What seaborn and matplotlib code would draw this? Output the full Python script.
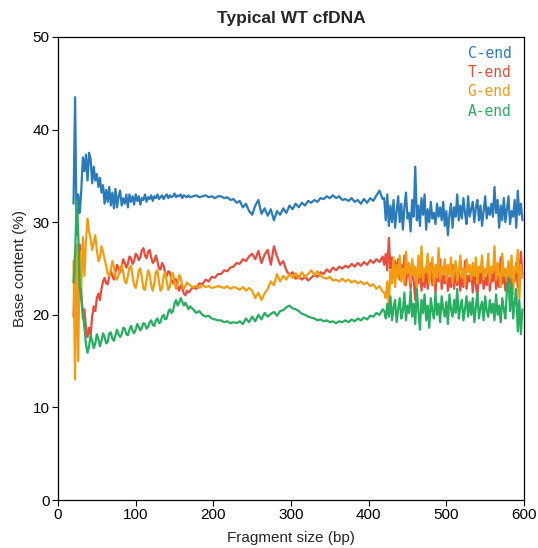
import numpy as np
import pandas as pd
import seaborn as sns
import matplotlib.pyplot as plt

# fragment sizes: dense at the start and in the noisy tail, coarser in the middle
size_bp = np.concatenate([np.arange(20, 170, 2), np.arange(170, 420, 4), np.arange(420, 600, 2)])

c_end = [
    # 20-168 step 2
    32.0, 43.5, 28.6, 33.0, 31.0, 33.5, 37.0, 35.5, 37.3, 34.5,
    37.5, 36.8, 34.2, 36.0, 34.5, 35.2, 33.8, 34.8, 33.2, 34.0,
    32.0, 33.5, 32.2, 33.8, 31.8, 33.2, 31.5, 33.6, 31.6, 32.8,
    33.4, 31.8, 32.6, 32.0, 33.0, 31.6, 33.0, 32.2, 32.8, 31.9,
    33.0, 32.3, 32.8, 31.9, 32.6, 32.4, 33.0, 32.2, 32.7, 32.5,
    32.9, 32.3, 32.8, 32.6, 33.0, 32.5, 32.7, 32.9, 32.5, 32.8,
    33.0, 32.6, 32.9, 32.7, 32.8, 33.1, 32.7, 32.9, 32.8, 33.0,
    32.6, 32.9, 32.8, 32.7, 32.9,
    # 170-418 step 4
    32.7, 32.8, 32.9, 32.7, 32.8, 32.9, 32.7, 32.8, 32.6, 32.8,
    32.8, 32.6, 32.7, 32.4, 32.5, 32.1, 32.3, 31.6, 32.0, 31.2,
    30.8, 31.8, 32.4, 30.9, 31.5, 30.7, 31.4, 30.2, 31.2, 30.8,
    31.5, 31.0, 31.8, 31.4, 32.0, 31.6, 32.1, 31.8, 32.3, 32.1,
    32.4, 32.2, 32.6, 32.5, 32.8, 32.6, 32.9, 32.6, 32.8, 32.4,
    32.5, 32.3, 32.6, 32.2, 32.4, 32.0, 32.5, 32.1, 32.6, 32.3,
    32.9, 33.4, 32.5,
    # 420-598 step 2
    32.6, 30.2, 33.0, 29.6, 31.8, 30.0, 32.4, 29.4, 31.2, 32.8,
    30.0, 32.0, 29.2, 31.6, 33.2, 30.4, 31.0, 29.0, 32.4, 30.6,
    36.0, 30.2, 31.8, 29.6, 32.6, 30.8, 33.0, 29.2, 31.4, 30.0,
    32.2, 30.4, 31.0, 29.8, 32.0, 30.6, 31.6, 30.2, 32.2, 29.6,
    31.2, 28.6, 30.8, 32.0, 29.4, 31.6, 30.6, 33.0, 30.2, 31.8,
    30.4, 32.6, 31.0, 29.8, 32.8, 30.6, 31.4, 32.2, 30.0, 31.6,
    32.4, 30.2, 31.8, 29.6, 31.2, 32.8, 30.4, 31.6, 30.8, 32.0,
    30.6, 33.8, 31.0, 32.4, 29.4, 31.8, 30.2, 32.6, 30.0, 31.4,
    32.8, 29.8, 31.2, 30.6, 32.4, 29.4, 33.4, 30.8, 32.0, 30.2,
]

t_end = [
    19.8, 26.8, 21.2, 23.0, 27.6, 22.4, 19.6, 20.6, 18.6, 17.6,
    18.6, 17.9, 19.8, 20.9, 20.4, 21.8, 22.3, 21.6, 22.8, 23.6,
    24.0, 23.4, 23.3, 24.2, 24.8, 24.2, 23.8, 24.6, 25.4, 25.0,
    24.6, 25.2, 26.0, 25.6, 25.1, 25.5, 26.3, 26.1, 25.5, 25.8,
    26.6, 26.4, 25.9, 26.2, 27.0, 27.2, 26.4, 26.1, 26.8, 27.0,
    26.2, 25.6, 25.8, 26.4, 25.8, 25.0, 24.9, 25.6, 25.3, 24.5,
    24.2, 24.7, 24.6, 23.8, 23.4, 23.9, 23.8, 23.0, 22.6, 23.2,
    22.9, 22.3, 22.1, 22.6, 22.4,
    22.6, 23.0, 22.8, 23.4, 23.3, 23.8, 23.6, 24.1, 24.0, 24.4,
    24.4, 24.8, 24.7, 25.1, 25.2, 25.6, 25.5, 26.0, 25.8, 26.3,
    26.6, 26.0, 26.9, 25.6, 26.5, 27.0, 25.4, 27.4, 26.3, 25.4,
    25.8, 24.8, 24.3, 24.6, 23.9, 24.2, 23.8, 24.1, 23.7, 24.0,
    24.3, 24.1, 24.6, 24.4, 24.9, 24.6, 25.1, 24.8, 25.2, 25.0,
    25.3, 25.1, 25.5, 25.2, 25.6, 25.3, 25.7, 25.4, 25.9, 25.6,
    26.0, 25.7, 26.3,
    25.4, 26.6, 24.8, 28.3, 25.0, 26.2, 24.2, 25.8, 24.6, 26.0,
    23.8, 25.4, 24.2, 26.4, 23.2, 25.0, 24.4, 22.8, 25.6, 23.6,
    21.6, 24.8, 23.4, 25.6, 22.6, 24.4, 23.0, 25.2, 22.8, 24.0,
    25.6, 23.2, 24.6, 22.4, 25.0, 23.6, 26.0, 22.8, 24.2, 23.4,
    25.2, 22.6, 24.0, 23.0, 25.4, 22.8, 24.6, 23.2, 24.8, 22.6,
    24.4, 23.0, 25.8, 22.8, 24.2, 23.6, 25.0, 22.4, 24.6, 23.2,
    22.0, 24.8, 23.4, 25.2, 22.8, 24.0, 23.2, 25.6, 22.6, 24.4,
    23.6, 25.4, 22.8, 24.2, 23.0, 26.2, 23.4, 24.8, 22.6, 24.0,
    23.4, 25.0, 22.8, 24.6, 23.6, 25.6, 23.0, 24.2, 26.8, 24.4,
]

g_end = [
    25.8, 13.0, 27.6, 15.0, 26.8, 23.0, 28.4, 24.2, 28.0, 30.4,
    29.0, 28.2, 27.0, 27.8, 28.6, 27.0, 25.8, 26.2, 27.4, 26.8,
    26.0, 25.3, 24.4, 24.2, 24.9, 25.8, 25.2, 24.1, 23.8, 24.3,
    25.0, 25.4, 24.6, 23.6, 23.4, 24.2, 25.1, 25.3, 24.2, 23.2,
    22.9, 23.6, 24.8, 25.0, 24.0, 22.8, 22.7, 23.8, 24.8, 24.4,
    23.2, 22.6, 23.4, 24.6, 24.8, 23.6, 22.6, 22.9, 24.2, 24.6,
    23.6, 22.7, 23.0, 24.2, 24.5, 23.5, 22.8, 23.4, 24.3, 24.0,
    23.2, 22.8, 23.1, 23.5, 23.3,
    23.2, 23.0, 23.1, 22.9, 23.2, 23.0, 23.1, 22.9, 23.0, 23.1,
    23.0, 22.9, 23.1, 22.8, 23.0, 22.9, 22.7, 23.0, 22.6, 22.9,
    22.6, 21.8, 22.4, 21.6, 22.3, 22.8, 23.6, 23.2, 24.4, 23.6,
    24.2, 23.8, 24.4, 24.0, 24.5, 23.9, 24.6, 24.1, 24.4, 24.8,
    24.3, 24.7, 24.2, 24.0, 23.9, 24.1, 23.7, 23.8, 23.6, 23.9,
    23.6, 23.8, 23.5, 23.7, 23.4, 23.6, 23.3, 23.5, 23.1, 23.3,
    22.8, 23.1, 22.5,
    22.4, 21.8, 23.6, 21.0, 24.8, 23.4, 26.2, 23.0, 25.4, 24.0,
    26.4, 23.6, 25.0, 23.2, 26.8, 24.4, 25.6, 23.4, 26.0, 24.2,
    25.2, 23.0, 26.4, 24.0, 27.4, 23.6, 25.0, 24.6, 26.6, 23.4,
    24.8, 26.2, 23.2, 25.4, 24.0, 27.2, 23.8, 25.2, 24.4, 26.0,
    23.6, 25.4, 24.2, 26.2, 23.4, 24.8, 25.8, 23.6, 24.6, 26.4,
    24.0, 25.0, 23.2, 26.0, 24.6, 25.4, 23.8, 25.6, 24.2, 26.2,
    23.4, 25.2, 24.6, 26.4, 23.8, 25.0, 24.4, 26.6, 23.6, 25.2,
    24.6, 27.4, 23.8, 25.6, 24.4, 23.0, 26.6, 24.2, 25.0, 23.6,
    25.8, 24.0, 26.4, 22.2, 25.2, 24.6, 27.0, 21.8, 25.4, 24.0,
]

a_end = [
    23.5, 26.5, 32.4, 29.0, 23.0, 21.6, 20.2, 18.6, 16.8, 15.9,
    16.6, 17.8, 17.2, 16.4, 16.9, 17.9, 17.4, 16.6, 17.2, 18.0,
    17.6, 16.9, 17.1, 18.0, 18.1, 17.4, 17.2, 17.8, 18.4, 17.9,
    17.6, 17.9, 18.6, 18.5, 17.9, 17.8, 18.4, 18.8, 18.3, 18.0,
    18.4, 19.0, 18.7, 18.3, 18.6, 19.1, 19.0, 18.5, 18.7, 19.2,
    19.4, 18.9, 18.8, 19.4, 19.6, 19.1, 19.2, 19.8, 20.0, 19.5,
    19.6, 20.3, 20.6, 20.2, 20.4, 21.2, 21.6, 21.0, 21.3, 21.8,
    21.4, 21.0, 21.3, 21.0, 20.6,
    20.9, 20.6, 20.2, 20.4, 20.0, 19.8, 19.9, 19.6, 19.5, 19.4,
    19.4, 19.2, 19.3, 19.1, 19.2, 19.1, 19.3, 19.0, 19.6, 19.2,
    19.8, 19.3, 20.0, 19.5, 20.2, 19.8, 20.1, 20.3, 19.9, 20.4,
    20.5, 20.8, 21.0, 20.7, 20.6, 20.4, 20.1, 20.0, 19.8, 19.7,
    19.6, 19.4, 19.5, 19.3, 19.4, 19.2, 19.3, 19.1, 19.3, 19.2,
    19.4, 19.2, 19.5, 19.3, 19.6, 19.4, 19.7, 19.5, 19.9, 19.8,
    20.2, 20.0, 20.6,
    20.4, 19.6, 21.2, 19.8, 22.0, 19.4, 20.8, 21.6, 19.2, 20.6,
    21.8, 19.6, 20.4, 22.4, 19.4, 21.0, 20.2, 22.6, 19.8, 21.2,
    19.0, 22.8, 20.4, 18.4, 21.6, 20.2, 22.2, 19.4, 21.0, 18.6,
    21.8, 20.4, 19.6, 22.4, 20.0, 21.2, 19.2, 22.0, 20.6, 19.8,
    21.4, 19.0, 22.2, 20.6, 19.8, 21.6, 20.2, 22.8, 19.6, 20.8,
    21.6, 19.4, 20.6, 22.0, 19.8, 21.4, 20.0, 21.8, 19.2, 20.8,
    22.4, 19.6, 20.8, 21.4, 19.4, 22.0, 20.4, 19.8, 21.6, 20.2,
    21.2, 19.4, 22.2, 20.0, 21.0, 19.2, 21.8, 20.6, 19.6, 22.6,
    24.0, 20.4, 23.4, 19.6, 21.4, 22.8, 18.2, 21.6, 17.9, 20.6,
]

series_names = ["C-end", "T-end", "G-end", "A-end"]
series_colors = ["#2b7bba", "#e74c3c", "#f39c12", "#27ae60"]

for s in (c_end, t_end, g_end, a_end):
    assert len(s) == len(size_bp), (len(s), len(size_bp))

df = pd.concat([
    pd.DataFrame({"size": size_bp, "pct": vals, "end": name})
    for name, vals in zip(series_names, [c_end, t_end, g_end, a_end])
])

sns.set_theme(style="ticks")
plt.rcParams["font.family"] = ["Liberation Sans", "DejaVu Sans"]

fig = plt.figure(figsize=(5.38, 5.48), dpi=100)
ax = fig.add_axes([58 / 538, 1 - 500 / 548, 466 / 538, 463 / 548])

sns.lineplot(data=df, x="size", y="pct", hue="end", hue_order=series_names,
             palette=series_colors, estimator=None, linewidth=1.6, ax=ax)

ax.set_xlim(0, 600)
ax.set_ylim(0, 50)
ax.set_xticks(range(0, 601, 100))
ax.set_yticks(range(0, 51, 10))
ax.tick_params(labelsize=11, length=4, width=0.8, colors="black", pad=2)
ax.set_xlabel("Fragment size (bp)", fontsize=11, labelpad=6)
ax.set_ylabel("Base content (%)", fontsize=11, labelpad=4)
ax.set_title("Typical WT cfDNA", fontsize=12.5, fontweight="bold", pad=10)
for sp in ax.spines.values():
    sp.set_visible(True)
    sp.set_color("black")
    sp.set_linewidth(0.9)

leg = ax.legend(loc="upper right", bbox_to_anchor=(0.9824, 0.991), frameon=False,
                handlelength=0, handletextpad=0, labelcolor="linecolor",
                prop={"family": "DejaVu Sans Mono", "size": 10.5},
                labelspacing=0.3, borderaxespad=0, borderpad=0.3)
for h in leg.legend_handles:
    h.set_visible(False)

fig.savefig("out.png", dpi=100)
